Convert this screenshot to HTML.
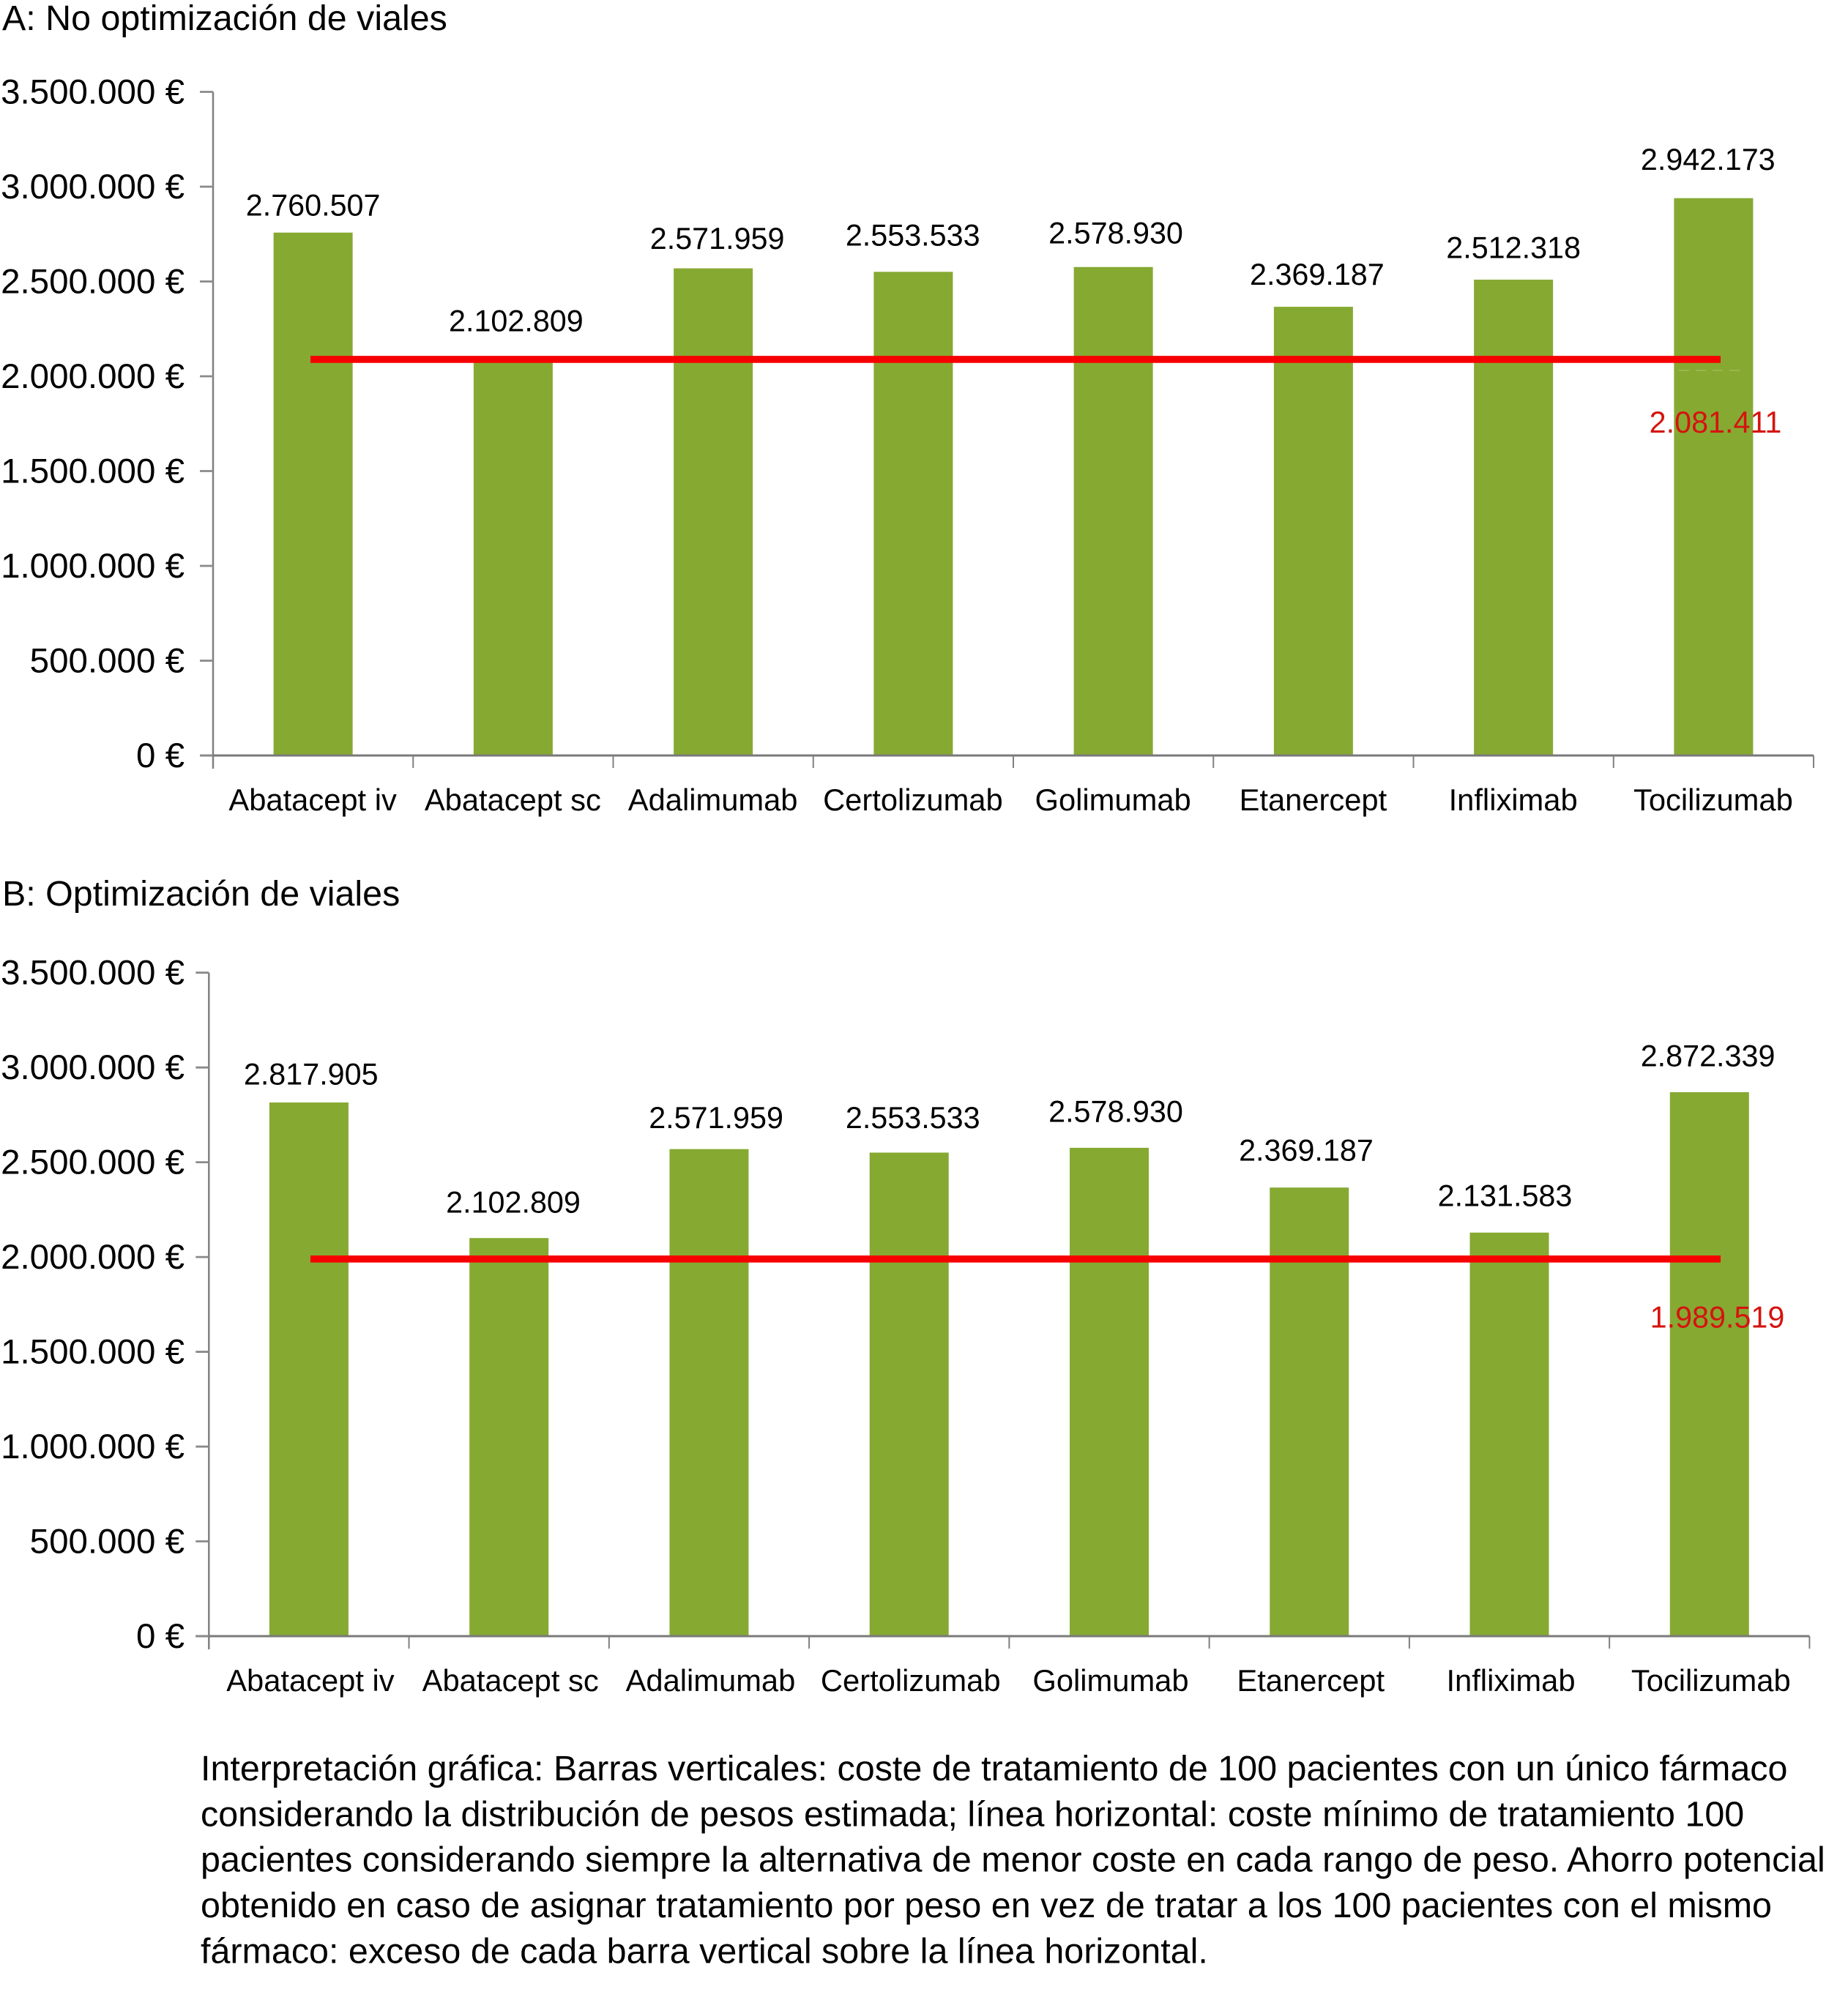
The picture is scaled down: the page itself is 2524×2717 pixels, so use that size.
<!DOCTYPE html>
<html lang="es">
<head>
<meta charset="utf-8">
<title>Coste de tratamiento: optimización de viales</title>
<style>
  html, body { margin: 0; padding: 0; background: #fff; }
  svg { display: block; }
  text { font-family: "Liberation Sans", "DejaVu Sans", sans-serif; fill: #000; }
</style>
</head>
<body>
<svg id="figure" xmlns="http://www.w3.org/2000/svg" width="2524" height="2717" viewBox="0 0 2524 2717">
  <rect x="0" y="0" width="2524" height="2717" fill="#ffffff"/>
  <text x="3" y="41" font-size="48.4">A: No optimización de viales</text>
  <text x="3" y="1237" font-size="48.4">B: Optimización de viales</text>
  <g id="panel-a"></g>
  <g id="panel-b"></g>
  <g font-size="48.45">
    <text x="274" y="2432">Interpretación gráfica: Barras verticales: coste de tratamiento de 100 pacientes con un único fármaco</text>
    <text x="274" y="2494.5">considerando la distribución de pesos estimada; línea horizontal: coste mínimo de tratamiento 100</text>
    <text x="274" y="2556.5">pacientes considerando siempre la alternativa de menor coste en cada rango de peso. Ahorro potencial</text>
    <text x="274" y="2619">obtenido en caso de asignar tratamiento por peso en vez de tratar a los 100 pacientes con el mismo</text>
    <text x="274" y="2681.5">fármaco: exceso de cada barra vertical sobre la línea horizontal.</text>
  </g>
</svg>
<script>
// ---- data ----
const categories = ["Abatacept iv", "Abatacept sc", "Adalimumab", "Certolizumab", "Golimumab", "Etanercept", "Infliximab", "Tocilizumab"];
const tickValues = [0, 500000, 1000000, 1500000, 2000000, 2500000, 3000000, 3500000];
const tickLabels = ["0 €", "500.000 €", "1.000.000 €", "1.500.000 €", "2.000.000 €", "2.500.000 €", "3.000.000 €", "3.500.000 €"];
const costNoOptimization = [2760507, 2102809, 2571959, 2553533, 2578930, 2369187, 2512318, 2942173];
const costOptimization = [2817905, 2102809, 2571959, 2553533, 2578930, 2369187, 2131583, 2872339];
const minimumCostNoOptimization = 2081411;
const minimumCostOptimization = 1989519;

// ---- layout (not data) ----
const layoutA = {
  left: 291, right: 2477, top: 125.5, base: 1032,
  gaps: [22.3, 34.7, 25.9, 34.9, 31.4, 29.4, 28.6, 38],
  shifts: [0, 4, 5.5, -0.7, 3.4, 5, 0, -7.6],
  lineShift: -2, refX: 2343, refY: 591, catY: 1107, catShift: 0.5, lineX0: 424, lineX1: 2350, ghostY: 506
};
const layoutB = {
  left: 285.3, right: 2471.4, top: 1328.7, base: 2235,
  gaps: [23.6, 33.8, 28, 32.8, 34.5, 35.8, 35.5, 34.5],
  shifts: [2.8, 5.8, 9.6, 5, 9, -4.3, -6, -2.2],
  lineShift: 0, refX: 2345.5, refY: 1813.5, catY: 2310, catShift: 3, lineX0: 424, lineX1: 2350, ghostY: null
};

const NS = "http://www.w3.org/2000/svg";
const domainMax = 3500000;
const barWidth = 108;
const barTopInset = 0.7;

function make(parent, tag, attrs, content) {
  const el = document.createElementNS(NS, tag);
  for (const k in attrs) el.setAttribute(k, attrs[k]);
  if (content !== undefined) el.textContent = content;
  parent.appendChild(el);
  return el;
}

function formatValue(v) {
  return String(v).replace(/\B(?=(\d{3})+(?!\d))/g, ".");
}

function drawChart(root, values, minimum, L) {
  const y = v => L.base - (v / domainMax) * (L.base - L.top);
  const band = (L.right - L.left) / categories.length;
  const x = i => L.left + band * (i + 0.5);

  // bars
  values.forEach((v, i) => {
    const top = y(v) + barTopInset;
    const bar = make(root, "rect", {
      x: x(i) - barWidth / 2, y: top, width: barWidth, height: L.base - top,
      fill: "#86a932"
    });
    
    
  });

  // axes
  const yAxis = make(root, "line", { x1: L.left, x2: L.left, y1: L.top, y2: L.base + 18, stroke: "#808080", "stroke-width": 2.5 });
  
  

  const xAxis = make(root, "line", { x1: L.left - 18, x2: L.right, y1: L.base, y2: L.base, stroke: "#7a7a7a", "stroke-width": 3 });
  
  

  tickValues.forEach((v, i) => {
    const tick = make(root, "line", { x1: L.left - 18, x2: L.left, y1: y(v), y2: y(v), stroke: "#8a8a8a", "stroke-width": 2.8 });
    
    

    const label = make(root, "text", { x: 252, y: y(v) + 16, "font-size": 47.5, "text-anchor": "end" }, tickLabels[i]);
    
    
  });

  for (let i = 1; i <= categories.length; i++) {
    const tx = L.left + band * i;
    const tick = make(root, "line", { x1: tx, x2: tx, y1: L.base, y2: L.base + 17, stroke: "#808080", "stroke-width": 2 });
    
    
  }

  categories.forEach((c, i) => {
    const label = make(root, "text", { x: x(i) - 1 + L.catShift, y: L.catY, "font-size": 41.7, "text-anchor": "middle" }, c);
    
    
  });

  // faint residue under the reference line
  if (L.ghostY !== null) {
    const ghost = make(root, "line", { x1: L.lineX0 + 1869, x2: L.lineX1 + 27, y1: L.ghostY, y2: L.ghostY, stroke: "#a0ba5a", "stroke-width": 1.5, "stroke-dasharray": "14 9" });
    
    
  }

  // reference line
  const lineY = y(minimum) + L.lineShift;
  const refLine = make(root, "line", { x1: L.lineX0, x2: L.lineX1, y1: lineY, y2: lineY, stroke: "#f70000", "stroke-width": 9.6 });
  
  

  // value labels
  values.forEach((v, i) => {
    const label = make(root, "text", { x: x(i) + L.shifts[i], y: y(v) - L.gaps[i], "font-size": 41.3, "text-anchor": "middle" }, formatValue(v));
    
    
  });

  const refLabel = make(root, "text", { x: L.refX, y: L.refY + (y(minimum) - (L === layoutA ? y(minimumCostNoOptimization) : y(minimumCostOptimization))), "font-size": 41.3, "text-anchor": "middle", style: "fill:#d5140f" }, formatValue(minimum));
  
  
}

drawChart(document.getElementById("panel-a"), costNoOptimization, minimumCostNoOptimization, layoutA);
drawChart(document.getElementById("panel-b"), costOptimization, minimumCostOptimization, layoutB);
</script>
</body>
</html>
